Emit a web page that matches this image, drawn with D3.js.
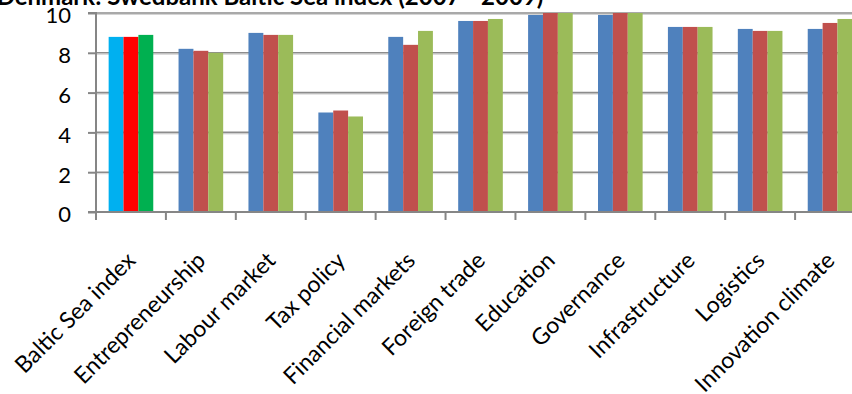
<!DOCTYPE html>
<html>
<head>
<meta charset="utf-8">
<script src="https://cdn.jsdelivr.net/npm/d3@7"></script>
<style>
  body { margin: 0; background: #ffffff; }
  svg { display: block; }
  text { font-family: Lato, "Open Sans", "DejaVu Sans", sans-serif; fill: #000000; }
</style>
</head>
<body>
<svg id="chart" width="852" height="394"></svg>
<script>
// Swedbank Baltic Sea index for Denmark, scores 0-10 by policy area and year
const chartTitle = "Denmark: Swedbank Baltic Sea index (2007 - 2009)";
const categories = [
  "Baltic Sea index", "Entrepreneurship", "Labour market", "Tax policy",
  "Financial markets", "Foreign trade", "Education", "Governance",
  "Infrastructure", "Logistics", "Innovation climate"
];
const years = ["2007", "2008", "2009"];
const scores2007 = [8.8, 8.2, 9.0, 5.0, 8.8, 9.6, 9.9, 9.9, 9.3, 9.2, 9.2];
const scores2008 = [8.8, 8.1, 8.9, 5.1, 8.4, 9.6, 10.0, 10.0, 9.3, 9.1, 9.5];
const scores2009 = [8.9, 8.0, 8.9, 4.8, 9.1, 9.7, 10.0, 10.0, 9.3, 9.1, 9.7];
const yTicks = [0, 2, 4, 6, 8, 10];

// palette: regular series colours, and brighter ones for the overall index group
const seriesColors = ["#4F81BD", "#C0504D", "#9BBB59"];
const indexColors = ["#00B0F0", "#FF0000", "#00B050"];

const seriesValues = [scores2007, scores2008, scores2009];
const rows = categories.map((c, i) => ({
  category: c,
  values: years.map((y, s) => ({ year: y, series: s, value: seriesValues[s][i] }))
}));

const svg = d3.select("#chart");
const plot = { left: 96, right: 865, top: 13, bottom: 212 };

const x0 = d3.scaleBand()
  .domain(categories)
  .range([plot.left, plot.right])
  .paddingInner(0)
  .paddingOuter(0);

const x1 = d3.scaleBand()
  .domain(years)
  .range([0, x0.bandwidth()])
  .paddingInner(0)
  .paddingOuter(0.85);

const y = d3.scaleLinear()
  .domain([0, 10])
  .range([plot.bottom, plot.top]);

const axisGray = "#868686";

// horizontal gridlines with a soft shadow line below
const grid = svg.append("g");
grid.selectAll("line.shadow")
  .data(yTicks.filter(t => t > 0))
  .join("line")
  .attr("class", "shadow")
  .attr("x1", plot.left).attr("x2", plot.right)
  .attr("y1", d => y(d) + 1.5).attr("y2", d => y(d) + 1.5)
  .attr("stroke", "#d4d4d4").attr("stroke-width", 1);
grid.selectAll("line.major")
  .data(yTicks.filter(t => t > 0))
  .join("line")
  .attr("class", "major")
  .attr("x1", plot.left).attr("x2", plot.right)
  .attr("y1", d => y(d)).attr("y2", d => y(d))
  .attr("stroke", "#8c8c8c").attr("stroke-width", 1.6);

// bars
const groups = svg.append("g")
  .selectAll("g")
  .data(rows)
  .join("g")
  .attr("transform", d => `translate(${x0(d.category)},0)`);

groups.selectAll("rect")
  .data((d, i) => d.values.map(v => ({ ...v, index: i })))
  .join("rect")
  .attr("x", d => x1(d.year))
  .attr("width", x1.bandwidth())
  .attr("y", d => y(d.value))
  .attr("height", d => y(0) - y(d.value))
  .attr("fill", d => d.index === 0 ? indexColors[d.series] : seriesColors[d.series]);

// y axis
const yAxis = d3.axisLeft(y)
  .tickValues(yTicks)
  .tickSize(8)
  .tickPadding(17)
  .tickFormat(d3.format("d"));
const yg = svg.append("g")
  .attr("transform", `translate(${plot.left},0)`)
  .call(yAxis);
yg.select(".domain").attr("stroke", axisGray).attr("stroke-width", 2)
  .attr("d", `M-8,${plot.top}H0V${plot.bottom}H-8`);
yg.selectAll(".tick line").attr("stroke", axisGray).attr("stroke-width", 2);
yg.selectAll(".tick text")
  .attr("dy", "0.36em")
  .attr("y", 2)
  .style("font-size", "22px")
  .style("font-family", "Lato, 'Open Sans', sans-serif")
  .attr("fill", "#000");

// x axis baseline and category boundary ticks
const xg = svg.append("g");
xg.append("line")
  .attr("x1", plot.left).attr("x2", plot.right)
  .attr("y1", plot.bottom).attr("y2", plot.bottom)
  .attr("stroke", axisGray).attr("stroke-width", 2);
xg.selectAll("line.tick")
  .data(categories)
  .join("line")
  .attr("class", "tick")
  .attr("x1", d => x0(d)).attr("x2", d => x0(d))
  .attr("y1", plot.bottom).attr("y2", plot.bottom + 8)
  .attr("stroke", axisGray).attr("stroke-width", 2);

// rotated category labels
xg.selectAll("text")
  .data(categories)
  .join("text")
  .attr("transform", d => `translate(${x0(d) + x0.bandwidth() / 2 + 6},262) rotate(-45)`)
  .attr("text-anchor", "end")
  .style("font-size", "23px")
  .text(d => d);

// title (sits partly above the visible area)
svg.append("text")
  .attr("x", 270)
  .attr("y", 5)
  .attr("text-anchor", "middle")
  .style("font-size", "24px")
  .style("font-weight", "bold")
  .text(chartTitle);
</script>
</body>
</html>
